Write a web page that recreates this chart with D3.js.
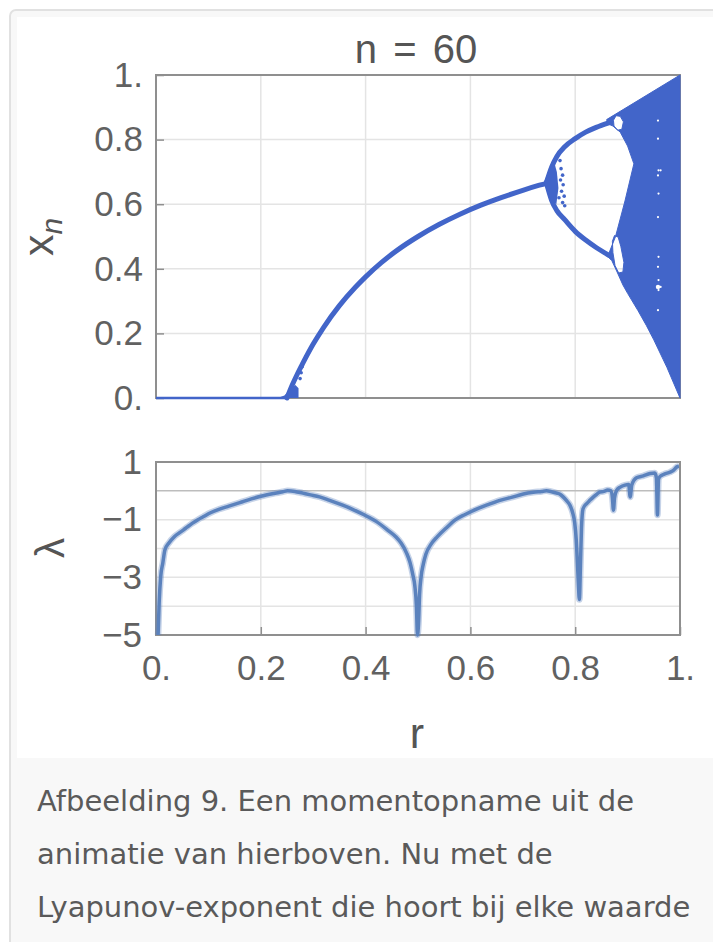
<!DOCTYPE html>
<html>
<head>
<meta charset="UTF-8">
<title>Bifurcatie en Lyapunov-exponent</title>
<script src="https://d3js.org/d3.v7.min.js"></script>
<style>
  body { margin: 0; background: #fff; }
  svg { display: block; }
</style>
</head>
<body>
<script>
// ---- data ----
var rTicks = [0, 0.2, 0.4, 0.6, 0.8, 1];
var rTickLabels = ["0.", "0.2", "0.4", "0.6", "0.8", "1."];
var xTicks = [0, 0.2, 0.4, 0.6, 0.8, 1];
var xTickLabels = ["0.", "0.2", "0.4", "0.6", "0.8", "1."];
var lamTicks = [1, -1, -3, -5];
var lamTickLabels = ["1", "\u22121", "\u22123", "\u22125"];
var lamGrid = [0, -1, -2, -3, -4];

// x_n at n = 60
var zeroBranch = [[0, 0], [0.25, 0]];
var fixedBranch = [[0.25, 0], [0.26, 0.04], [0.27, 0.075], [0.28, 0.107], [0.30, 0.167],
  [0.32, 0.219], [0.35, 0.286], [0.38, 0.342], [0.40, 0.375], [0.43, 0.419], [0.46, 0.457],
  [0.50, 0.50], [0.54, 0.537], [0.58, 0.569], [0.62, 0.597], [0.66, 0.621], [0.70, 0.643],
  [0.73, 0.658], [0.75, 0.667]];
var upperBranch = [[0.745, 0.667], [0.755, 0.715], [0.765, 0.748], [0.78, 0.778], [0.80, 0.803],
  [0.82, 0.823], [0.84, 0.838], [0.864, 0.852]];
var lowerBranch = [[0.745, 0.667], [0.755, 0.612], [0.765, 0.58], [0.78, 0.552], [0.80, 0.516],
  [0.82, 0.489], [0.84, 0.466], [0.864, 0.442]];
// chaotic band: outer edge, then inner edge back
var chaosBand = [[0.86, 0.862], [1.0, 1.0], [1.0, 0], [0.975, 0.095], [0.95, 0.18],
  [0.936, 0.224], [0.92, 0.27], [0.90, 0.324], [0.891, 0.35], [0.88, 0.39], [0.87, 0.425],
  [0.862, 0.438], [0.866, 0.455], [0.877, 0.50], [0.895, 0.61], [0.912, 0.725], [0.90, 0.78],
  [0.886, 0.823], [0.872, 0.842], [0.862, 0.849]];
var upperHole = [[0.873, 0.86], [0.878, 0.874], [0.886, 0.872], [0.892, 0.855], [0.889, 0.832],
  [0.881, 0.829], [0.874, 0.842]];
var lowerHole = [[0.871, 0.485], [0.875, 0.503], [0.882, 0.498], [0.887, 0.47], [0.893, 0.42],
  [0.891, 0.39], [0.883, 0.387], [0.876, 0.41], [0.872, 0.45]];
var forkWedge = [[0.740, 0.667], [0.750, 0.705], [0.76, 0.73], [0.765, 0.70], [0.768, 0.65],
  [0.764, 0.6], [0.753, 0.615], [0.746, 0.64]];
var forkDots = [[0.771, 0.735], [0.773, 0.71], [0.776, 0.69], [0.772, 0.675], [0.777, 0.66],
  [0.774, 0.64], [0.779, 0.625], [0.776, 0.605], [0.78, 0.595], [0.769, 0.62]];
var onsetBlob = [[0.232, 0], [0.272, 0], [0.272, 0.03], [0.266, 0.04], [0.258, 0.03], [0.245, 0.008]];
var onsetDots = [[0.275, 0.06], [0.277, 0.078], [0.279, 0.097], [0.283, 0.117], [0.286, 0.128]];
var windowGaps = [[0.958, 0.859], [0.958, 0.803], [0.959, 0.705], [0.958, 0.689], [0.959, 0.633],
  [0.958, 0.56], [0.959, 0.437], [0.958, 0.406], [0.959, 0.365], [0.958, 0.344], [0.959, 0.334],
  [0.958, 0.272], [0.963, 0.705], [0.963, 0.344]];

// Lyapunov exponent
var lyapR = [0.004, 0.006, 0.009, 0.013, 0.017, 0.025, 0.035, 0.045, 0.052, 0.06, 0.069, 0.08,
  0.09, 0.104, 0.12, 0.139, 0.16, 0.182, 0.2, 0.225, 0.242, 0.251, 0.265, 0.28, 0.295, 0.312,
  0.33, 0.355, 0.375, 0.398, 0.42, 0.442, 0.458, 0.468, 0.478, 0.485, 0.49, 0.494, 0.497, 0.499,
  0.501, 0.503, 0.506, 0.51, 0.515, 0.525, 0.537, 0.555, 0.571, 0.59, 0.615, 0.635, 0.658, 0.68,
  0.701, 0.72, 0.736, 0.745, 0.755, 0.765, 0.771, 0.777, 0.784, 0.79, 0.795, 0.799, 0.802,
  0.804, 0.806, 0.808, 0.81, 0.812, 0.815, 0.822, 0.828, 0.835, 0.841, 0.847, 0.855, 0.862,
  0.868, 0.871, 0.873, 0.875, 0.879, 0.886, 0.895, 0.902, 0.905, 0.908, 0.917, 0.93, 0.943,
  0.952, 0.955, 0.957, 0.959, 0.962, 0.97, 0.981, 0.988, 0.994, 0.998];
var lyapL = [-5, -3.9, -2.97, -2.5, -2.05, -1.8, -1.59, -1.45, -1.36, -1.25, -1.13, -1.0,
  -0.9, -0.76, -0.64, -0.53, -0.41, -0.28, -0.19, -0.09, -0.03, 0.0, -0.02, -0.08, -0.14, -0.21,
  -0.32, -0.49, -0.64, -0.84, -1.06, -1.36, -1.6, -1.82, -2.15, -2.5, -2.9, -3.3, -4.0, -5,
  -4.6, -3.6, -2.97, -2.55, -2.2, -1.85, -1.59, -1.27, -1.01, -0.82, -0.61, -0.47, -0.32, -0.22,
  -0.11, -0.05, -0.02, 0.0, -0.03, -0.08, -0.12, -0.21, -0.35, -0.5, -0.75, -1.1, -1.7,
  -2.4, -3.2, -3.77, -2.6, -1.3, -0.62, -0.44, -0.33, -0.21, -0.12, -0.04, -0.02, 0.03,
  0.0, -0.25, -0.67, -0.25, 0.02, 0.13, 0.2, 0.22, -0.21, 0.2, 0.45, 0.52, 0.6,
  0.62, 0.45, -0.84, 0.4, 0.5, 0.58, 0.65, 0.72, 0.83, 0.85];

var captionLines = [
  "Afbeelding 9. Een momentopname uit de",
  "animatie van hierboven. Nu met de",
  "Lyapunov-exponent die hoort bij elke waarde"
];

// ---- drawing ----
var W = 713, H = 942;
var font = "'DejaVu Sans', sans-serif";
var plotFont = "'Liberation Sans', Arial, sans-serif";
var gridCol = "#e4e4e4", frameCol = "#8f8f8f", labelCol = "#616161";
var bifCol = "#4265c9", lyapCol = "#5b82bd";

var svg = d3.select("body").append("svg")
  .attr("width", W).attr("height", H);

// card and white picture area
svg.append("rect").attr("x", 10).attr("y", 10).attr("width", W + 10).attr("height", H + 10)
  .attr("rx", 6).attr("fill", "#f8f8f8").attr("stroke", "#e1e1e1").attr("stroke-width", 2);
svg.append("rect").attr("x", 17).attr("y", 17).attr("width", W - 17).attr("height", 741)
  .attr("fill", "#fff");

var x = d3.scaleLinear().domain([0, 1]).range([156, 680]);
var yTop = d3.scaleLinear().domain([0, 1]).range([398, 75]);
var yBot = d3.scaleLinear().domain([-5, 1]).range([635, 462]);

function styleAxis(g, size) {
  g.select(".domain").remove();
  g.selectAll(".tick line").attr("stroke", frameCol).attr("stroke-width", 1.5);
  g.selectAll("text").attr("fill", labelCol).style("font-size", size + "px")
    .style("font-family", plotFont);
}

// --- top panel ---
var gTop = svg.append("g");
gTop.append("g").selectAll("line").data([0.2, 0.4, 0.6, 0.8]).enter().append("line")
  .attr("x1", function(d) { return x(d); }).attr("x2", function(d) { return x(d); })
  .attr("y1", yTop(0)).attr("y2", yTop(1))
  .attr("stroke", gridCol).attr("stroke-width", 1.5);
gTop.append("g").selectAll("line").data([0.2, 0.4, 0.6, 0.8]).enter().append("line")
  .attr("x1", x(0)).attr("x2", x(1))
  .attr("y1", function(d) { return yTop(d); }).attr("y2", function(d) { return yTop(d); })
  .attr("stroke", gridCol).attr("stroke-width", 1.5);

gTop.append("rect").attr("x", x(0)).attr("y", yTop(1))
  .attr("width", x(1) - x(0)).attr("height", yTop(0) - yTop(1))
  .attr("fill", "none").attr("stroke", frameCol).attr("stroke-width", 2);

gTop.append("g").attr("transform", "translate(" + x(0) + ",0)")
  .call(d3.axisLeft(yTop).tickValues(rTicks)
    .tickFormat(function(d, i) { return rTickLabels[i]; })
    .tickSizeInner(-8).tickSizeOuter(0).tickPadding(13))
  .call(styleAxis, 35);

var lineTop = d3.line()
  .x(function(d) { return x(d[0]); })
  .y(function(d) { return yTop(d[1]); });
var ring = d3.line()
  .x(function(d) { return x(d[0]); })
  .y(function(d) { return yTop(d[1]); })
  .curve(d3.curveLinearClosed);

gTop.append("path").attr("d", lineTop(zeroBranch))
  .attr("fill", "none").attr("stroke", bifCol).attr("stroke-width", 2.5);
[fixedBranch, upperBranch, lowerBranch].forEach(function(b) {
  gTop.append("path").attr("d", lineTop.curve(d3.curveMonotoneX)(b))
    .attr("fill", "none").attr("stroke", bifCol).attr("stroke-width", 5)
    .attr("stroke-linecap", "round");
});
gTop.append("path").attr("d", ring(chaosBand) + ring(upperHole) + ring(lowerHole))
  .attr("fill", bifCol).attr("fill-rule", "evenodd")
  .attr("stroke", bifCol).attr("stroke-width", 1);
gTop.append("path").attr("d", ring(forkWedge)).attr("fill", bifCol);
gTop.append("path").attr("d", ring(onsetBlob)).attr("fill", bifCol);
gTop.append("g").selectAll("circle").data(forkDots.concat(onsetDots)).enter().append("circle")
  .attr("cx", function(d) { return x(d[0]); }).attr("cy", function(d) { return yTop(d[1]); })
  .attr("r", 1.8).attr("fill", bifCol);
gTop.append("g").selectAll("circle").data(windowGaps).enter().append("circle")
  .attr("cx", function(d) { return x(d[0]); }).attr("cy", function(d) { return yTop(d[1]); })
  .attr("r", function(d, i) { return i === 9 ? 2.2 : 1.1; }).attr("fill", "#fff");

svg.append("text").attr("x", 416).attr("y", 63).attr("text-anchor", "middle")
  .style("font-family", plotFont).style("font-size", "40px").attr("fill", "#555")
  .attr("word-spacing", 5)
  .text("n = 60");

var xl = svg.append("text").attr("transform", "translate(53,237) rotate(-90)")
  .attr("text-anchor", "middle").style("font-family", plotFont).attr("fill", "#555");
xl.append("tspan").style("font-size", "43px").text("x");
xl.append("tspan").style("font-size", "30px").style("font-style", "italic")
  .attr("dy", 9).text("n");

// --- bottom panel ---
var gBot = svg.append("g");
gBot.append("g").selectAll("line").data([0.2, 0.4, 0.6, 0.8]).enter().append("line")
  .attr("x1", function(d) { return x(d); }).attr("x2", function(d) { return x(d); })
  .attr("y1", yBot(-5)).attr("y2", yBot(1))
  .attr("stroke", gridCol).attr("stroke-width", 1.5);
gBot.append("g").selectAll("line").data(lamGrid).enter().append("line")
  .attr("x1", x(0)).attr("x2", x(1))
  .attr("y1", function(d) { return yBot(d); }).attr("y2", function(d) { return yBot(d); })
  .attr("stroke", function(d) { return d === 0 ? "#bdbdbd" : gridCol; })
  .attr("stroke-width", 1.5);

gBot.append("rect").attr("x", x(0)).attr("y", yBot(1))
  .attr("width", x(1) - x(0)).attr("height", yBot(-5) - yBot(1))
  .attr("fill", "none").attr("stroke", frameCol).attr("stroke-width", 2);

gBot.append("g").attr("transform", "translate(" + x(0) + ",0)")
  .call(d3.axisLeft(yBot).tickValues(lamTicks)
    .tickFormat(function(d, i) { return lamTickLabels[i]; })
    .tickSizeInner(0).tickSizeOuter(0).tickPadding(14))
  .call(styleAxis, 35);
gBot.append("g").attr("transform", "translate(0," + yBot(-5) + ")")
  .call(d3.axisBottom(x).tickValues(xTicks)
    .tickFormat(function(d, i) { return xTickLabels[i]; })
    .tickSizeInner(-8).tickSizeOuter(0).tickPadding(20))
  .call(styleAxis, 35);

var lyap = lyapR.map(function(r, i) { return [r, lyapL[i]]; });
var lyapLine = d3.line()
  .x(function(d) { return x(d[0]); })
  .y(function(d) { return yBot(d[1]); })
  .curve(d3.curveMonotoneX);
// soft halo for the noisy look, then the line itself
gBot.append("path").attr("d", lyapLine(lyap))
  .attr("fill", "none").attr("stroke", lyapCol).attr("stroke-opacity", 0.35)
  .attr("stroke-width", 6.5).attr("stroke-linejoin", "round");
gBot.append("path").attr("d", lyapLine(lyap))
  .attr("fill", "none").attr("stroke", lyapCol).attr("stroke-width", 3.5)
  .attr("stroke-linejoin", "round");

svg.append("text").attr("transform", "translate(64,548) rotate(-90)")
  .attr("text-anchor", "middle").style("font-family", plotFont).style("font-size", "40px")
  .attr("fill", "#555").text("\u03bb");
svg.append("text").attr("x", 417).attr("y", 748).attr("text-anchor", "middle")
  .style("font-family", plotFont).style("font-size", "43px").attr("fill", "#555").text("r");

// --- caption ---
svg.append("g").selectAll("text").data(captionLines).enter().append("text")
  .attr("x", 37).attr("y", function(d, i) { return 811 + i * 53; })
  .style("font-family", font).style("font-size", "29px").attr("fill", "#5a5a5a")
  .text(function(d) { return d; });
</script>
</body>
</html>
